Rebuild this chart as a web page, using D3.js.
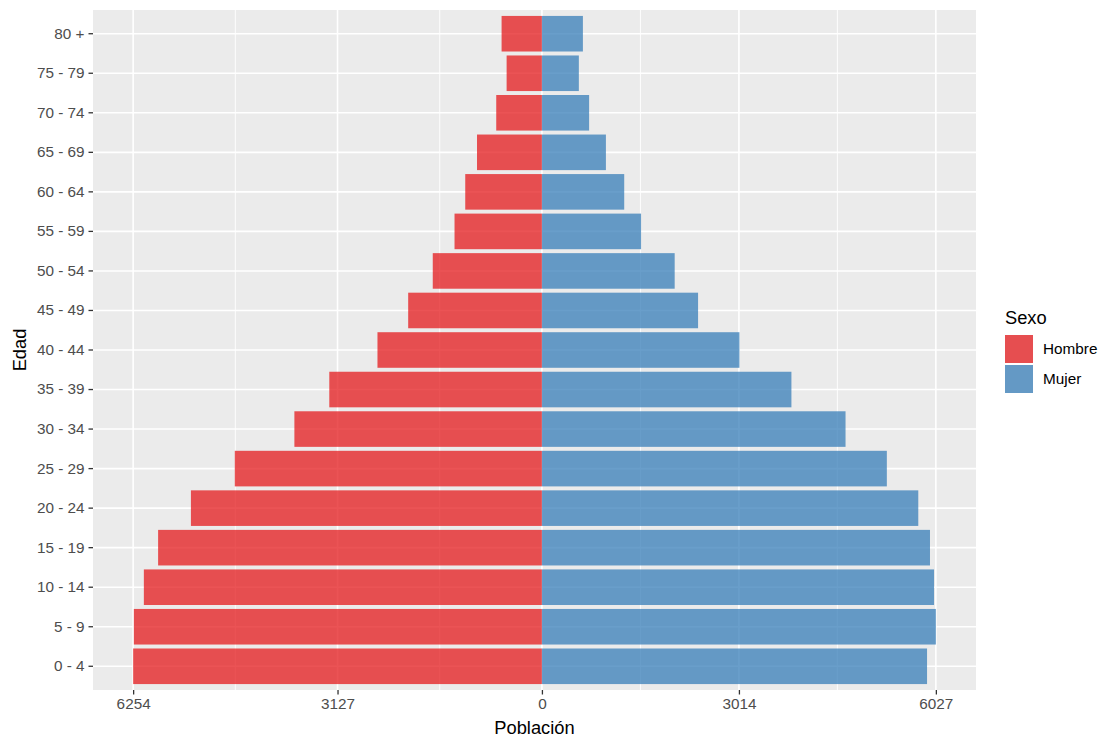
<!DOCTYPE html>
<html>
<head>
<meta charset="utf-8">
<script src="https://cdn.jsdelivr.net/npm/d3@7"></script>
<style>
  html, body { margin: 0; padding: 0; background: #ffffff; }
  svg { display: block; font-family: "Liberation Sans", Arial, sans-serif; }
</style>
</head>
<body>
<svg id="chart" width="1104" height="738"></svg>
<script>
// ---- data ----
const ageGroups = ["0 - 4","5 - 9","10 - 14","15 - 19","20 - 24","25 - 29","30 - 34","35 - 39",
                   "40 - 44","45 - 49","50 - 54","55 - 59","60 - 64","65 - 69","70 - 74","75 - 79","80 +"];
const hombre = [6254, 6243, 6090, 5872, 5370, 4699, 3787, 3253, 2516, 2046, 1670, 1337, 1173, 993, 699, 540, 617];
const mujer  = [5892, 6027, 5999, 5937, 5758, 5277, 4645, 3817, 3022, 2389, 2031, 1517, 1259, 979, 722, 565, 627];
const xTickValues = [-6254, -3127, 0, 3014, 6027];
const xTickLabels = ["6254", "3127", "0", "3014", "6027"];
const xMinorValues = [-4690.5, -1563.5, 1507, 4520.5];
const sexos = ["Hombre", "Mujer"];
const sexColors = ["#E41A1C", "#377EB8"];

// ---- layout ----
const svg = d3.select("#chart");
const panel = { x0: 93, x1: 976, y0: 10, y1: 690 };
const bg = "#EBEBEB";
const tickFont = "15.3px";

const lo = -d3.max(hombre), hi = d3.max(mujer);
const ex = (hi - lo) * 0.05;
const x = d3.scaleLinear().domain([lo - ex, hi + ex]).range([panel.x0, panel.x1]);
const y = d3.scaleBand().domain(ageGroups.slice().reverse())
  .range([panel.y0, panel.y1]).paddingInner(0.1).paddingOuter(0.15);
const color = d3.scaleOrdinal().domain(sexos).range(sexColors);

// panel background
svg.append("rect").attr("x", panel.x0).attr("y", panel.y0)
  .attr("width", panel.x1 - panel.x0).attr("height", panel.y1 - panel.y0)
  .attr("fill", bg);

// grid
const grid = svg.append("g");
grid.selectAll(".minor").data(xMinorValues).join("line")
  .attr("x1", d => x(d)).attr("x2", d => x(d))
  .attr("y1", panel.y0).attr("y2", panel.y1)
  .attr("stroke", "#fff").attr("stroke-width", 0.9);
grid.selectAll(".majx").data(xTickValues).join("line")
  .attr("x1", d => x(d)).attr("x2", d => x(d))
  .attr("y1", panel.y0).attr("y2", panel.y1)
  .attr("stroke", "#fff").attr("stroke-width", 1.6);
grid.selectAll(".majy").data(ageGroups).join("line")
  .attr("x1", panel.x0).attr("x2", panel.x1)
  .attr("y1", d => y(d) + y.bandwidth() / 2).attr("y2", d => y(d) + y.bandwidth() / 2)
  .attr("stroke", "#fff").attr("stroke-width", 1.6);

// bars
const bars = svg.append("g");
bars.selectAll(".h").data(ageGroups).join("rect")
  .attr("x", (d, i) => x(-hombre[i]))
  .attr("width", (d, i) => x(0) - x(-hombre[i]))
  .attr("y", d => y(d)).attr("height", y.bandwidth())
  .attr("fill", color("Hombre")).attr("fill-opacity", 0.75);
bars.selectAll(".m").data(ageGroups).join("rect")
  .attr("x", x(0))
  .attr("width", (d, i) => x(mujer[i]) - x(0))
  .attr("y", d => y(d)).attr("height", y.bandwidth())
  .attr("fill", color("Mujer")).attr("fill-opacity", 0.75);

// x axis
const xAxis = d3.axisBottom(x).tickValues(xTickValues)
  .tickFormat((d, i) => xTickLabels[i]).tickSize(4.5).tickPadding(4);
const gx = svg.append("g").attr("transform", `translate(0,${panel.y1})`).call(xAxis);
gx.select(".domain").remove();
gx.selectAll(".tick line").attr("stroke", "#333333").attr("stroke-width", 1.3);
gx.selectAll(".tick text").attr("fill", "#4D4D4D").attr("font-size", tickFont)
  .attr("font-family", "Liberation Sans, Arial, sans-serif");

// y axis
const yAxis = d3.axisLeft(y).tickSize(4.5).tickPadding(4);
const gy = svg.append("g").attr("transform", `translate(${panel.x0},0)`).call(yAxis);
gy.select(".domain").remove();
gy.selectAll(".tick line").attr("stroke", "#333333").attr("stroke-width", 1.3);
gy.selectAll(".tick text").attr("fill", "#4D4D4D").attr("font-size", tickFont)
  .attr("font-family", "Liberation Sans, Arial, sans-serif");

// axis titles
svg.append("text").attr("x", (panel.x0 + panel.x1) / 2).attr("y", 734)
  .attr("text-anchor", "middle").attr("font-size", "18.3px").attr("fill", "#000")
  .text("Población");
svg.append("text").attr("transform", `translate(26,${(panel.y0 + panel.y1) / 2}) rotate(-90)`)
  .attr("text-anchor", "middle").attr("font-size", "18.3px").attr("fill", "#000")
  .text("Edad");

// legend
const lg = svg.append("g").attr("transform", "translate(1005,0)");
lg.append("text").attr("x", 0).attr("y", 324).attr("font-size", "18.3px").attr("fill", "#000").text("Sexo");
const keySize = 28;
sexos.forEach((s, i) => {
  const ky = 335 + i * (keySize + 2);
  lg.append("rect").attr("x", 0).attr("y", ky).attr("width", keySize).attr("height", keySize)
    .attr("fill", bg);
  lg.append("rect").attr("x", 0).attr("y", ky).attr("width", keySize).attr("height", keySize)
    .attr("fill", color(s)).attr("fill-opacity", 0.75);
  lg.append("text").attr("x", keySize + 10).attr("y", ky + keySize / 2)
    .attr("dy", "0.35em").attr("font-size", tickFont).attr("fill", "#000").text(s);
});
</script>
</body>
</html>
